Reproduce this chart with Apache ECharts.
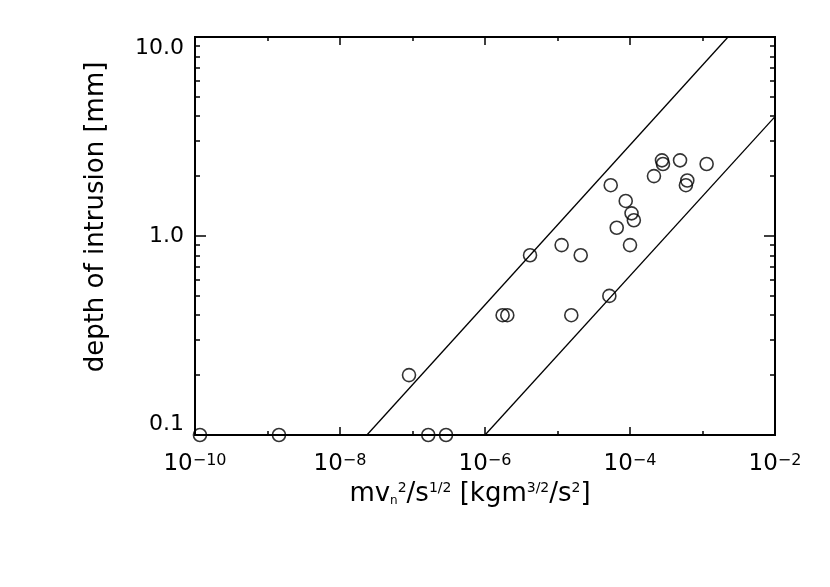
<!DOCTYPE html>
<html>
<head>
<meta charset="utf-8">
<script src="https://cdn.jsdelivr.net/npm/echarts@6/dist/echarts.min.js"></script>
<style>
  html, body { margin: 0; padding: 0; background: #ffffff; }
  #chart { width: 830px; height: 587px; }
</style>
</head>
<body>
<div id="chart"></div>
<script>
// measured points: m v_n^2 / s^(1/2)  vs  depth of intrusion [mm]
var impactX = [1.17e-10, 1.44e-9, 8.95e-8, 1.65e-7, 2.9e-7, 1.75e-6, 2.03e-6, 4.18e-6,
  1.14e-5, 1.55e-5, 2.09e-5, 5.42e-5, 5.19e-5, 6.56e-5, 8.73e-5, 1.05e-4, 1.13e-4,
  1.0e-4, 2.14e-4, 2.76e-4, 2.85e-4, 4.9e-4, 5.9e-4, 6.17e-4, 1.14e-3]
var depthY = [0.1, 0.1, 0.2, 0.1, 0.1, 0.4, 0.4, 0.8,
  0.9, 0.4, 0.8, 1.8, 0.5, 1.1, 1.5, 1.3, 1.2,
  0.9, 2.0, 2.4, 2.3, 2.4, 1.8, 1.9, 2.3]

// bounding lines (slope 0.4 in log-log)
var upperLineX = [2.35e-8, 2.25e-3]
var upperLineY = [0.1, 10]
var lowerLineX = [1.0e-6, 1.0e-2]
var lowerLineY = [0.1, 3.98]

// axis ticks
var xMajor = [1e-10, 1e-8, 1e-6, 1e-4, 1e-2]
var xMinor = [1e-9, 1e-7, 1e-5, 1e-3]
var yMajor = [0.1, 1, 10]
var yMinor = [0.2, 0.3, 0.4, 0.5, 0.6, 0.7, 0.8, 0.9, 2, 3, 4, 5, 6, 7, 8, 9]

var font = 'DejaVu Sans'
var ink = '#000000'

function zip(a, b) {
  return a.map(function(v, i) { return [v, b[i]] })
}

function xAxisOf(pos, ticks, len, labels) {
  return {
    type: 'log',
    position: pos,
    min: 1e-10,
    max: 1e-2,
    logBase: 10,
    axisLine: { show: true, onZero: false, lineStyle: { color: ink, width: 2 } },
    axisTick: { show: true, inside: true, length: len, customValues: ticks, lineStyle: { color: ink, width: 1.5 } },
    splitLine: { show: false },
    axisLabel: labels ? {
      show: true,
      customValues: xMajor,
      margin: 18,
      fontFamily: font,
      color: ink,
      formatter: function(v) {
        var e = Math.round(Math.log10(v))
        return '{b|10}{s|' + (e < 0 ? '\u2212' + (-e) : e) + '}'
      },
      rich: {
        b: { fontSize: 23, lineHeight: 24, fontFamily: font, color: ink, verticalAlign: 'top' },
        s: { fontSize: 16, lineHeight: 16, fontFamily: font, color: ink, verticalAlign: 'top' }
      }
    } : { show: false }
  }
}

function yAxisOf(pos, ticks, len, labels) {
  return {
    type: 'log',
    position: pos,
    min: 0.1,
    max: 10,
    logBase: 10,
    axisLine: { show: true, onZero: false, lineStyle: { color: ink, width: 2 } },
    axisTick: { show: true, inside: true, length: len, customValues: ticks, lineStyle: { color: ink, width: 1.5 } },
    splitLine: { show: false },
    axisLabel: labels ? {
      show: true,
      customValues: yMajor,
      margin: 11,
      fontSize: 22,
      fontFamily: font,
      color: ink,
      verticalAlignMinLabel: 'bottom',
      verticalAlignMaxLabel: 'top',
      formatter: function(v) { return v < 1 ? '0.1' : v.toFixed(1) }
    } : { show: false }
  }
}

var chart = echarts.init(document.getElementById('chart'))

var xAxes = [
  xAxisOf('bottom', xMajor, 8, true),
  xAxisOf('bottom', xMinor, 4, false),
  xAxisOf('top', xMajor, 8, false),
  xAxisOf('top', xMinor, 4, false)
]
xAxes[0].name = 'mv{sub|n}{sup|2}/s{sup|1/2} [kgm{sup|3/2}/s{sup|2}]'
xAxes[0].nameLocation = 'middle'
xAxes[0].nameGap = 43
xAxes[0].nameTextStyle = {
  fontSize: 26,
  fontFamily: font,
  color: ink,
  padding: [0, 30, 0, 0],
  rich: {
    sub: { fontSize: 12, fontFamily: font, color: ink, verticalAlign: 'bottom', lineHeight: 12 },
    sup: { fontSize: 14, fontFamily: font, color: ink, verticalAlign: 'top', lineHeight: 14 }
  }
}

var yAxes = [
  yAxisOf('left', yMajor, 11, true),
  yAxisOf('left', yMinor, 5, false),
  yAxisOf('right', yMajor, 11, false),
  yAxisOf('right', yMinor, 5, false)
]
yAxes[0].name = 'depth of intrusion [mm]'
yAxes[0].nameLocation = 'middle'
yAxes[0].nameGap = 86
yAxes[0].nameTextStyle = { fontSize: 26, fontFamily: font, color: ink, padding: [0, 0, 0, 38] }

var option = {
  backgroundColor: '#ffffff',
  animation: false,
  grid: { left: 195, right: 55, top: 37, bottom: 152, containLabel: false },
  xAxis: xAxes,
  yAxis: yAxes,
  series: [
    {
      type: 'line',
      data: zip(upperLineX, upperLineY),
      showSymbol: false,
      lineStyle: { color: ink, width: 1.3 },
      clip: true
    },
    {
      type: 'line',
      data: zip(lowerLineX, lowerLineY),
      showSymbol: false,
      lineStyle: { color: ink, width: 1.3 },
      clip: true
    },
    {
      type: 'scatter',
      data: zip(impactX, depthY),
      symbol: 'circle',
      symbolSize: 13,
      clip: false,
      itemStyle: { color: 'rgba(0,0,0,0)', borderColor: ink, borderWidth: 1.6 }
    }
  ]
}
chart.setOption(option, true)
</script>
</body>
</html>
